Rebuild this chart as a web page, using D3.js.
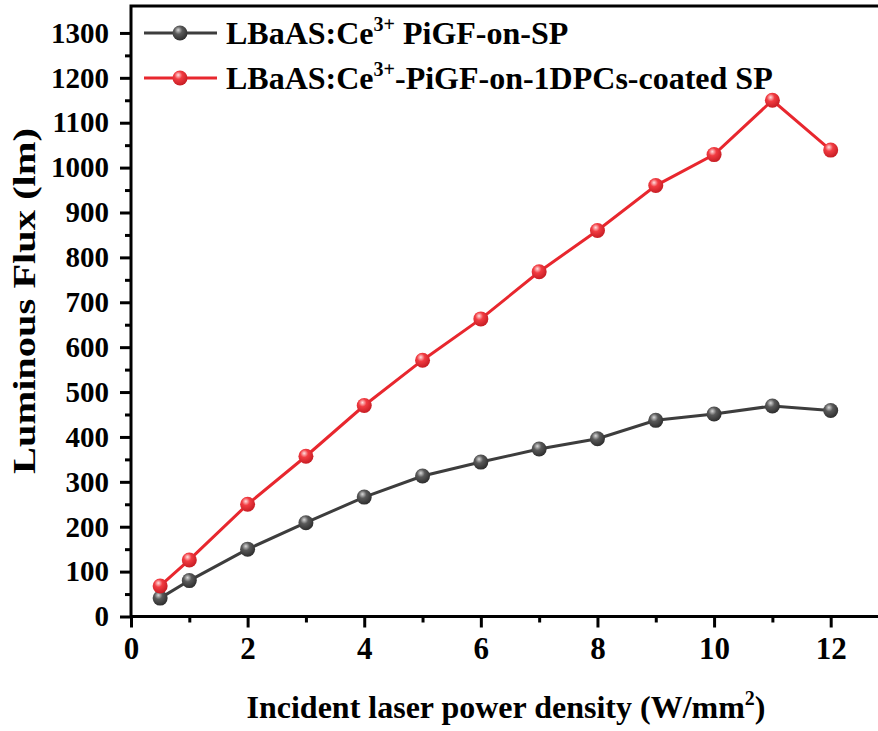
<!DOCTYPE html>
<html>
<head>
<meta charset="utf-8">
<script src="https://cdn.jsdelivr.net/npm/d3@7"></script>
<style>
    body { margin: 0; background: #fff; }
    svg { display: block; }
    svg text { font-family: "Liberation Serif", "Times New Roman", serif; font-weight: bold; }
</style>
</head>
<body>
<svg id="chart"></svg>
<script>
const width = 878, height = 731
const margin = {
    top: 6,
    bottom: 114.5,
    left: 131,
    right: -11,
}

// data
const powerDensity = [0.5, 1, 2, 3, 4, 5, 6, 7, 8, 9, 10, 11, 12]
const fluxSP = [41, 80, 150, 209, 266, 313, 344, 373, 396, 437, 451, 469, 459]
const fluxCoatedSP = [68, 126, 250, 357, 470, 571, 663, 768, 860, 960, 1029, 1150, 1039]
const xTicks = [0, 2, 4, 6, 8, 10, 12]
const xMinorTicks = [1, 3, 5, 7, 9, 11]
const yTicks = d3.range(0, 1301, 100)
const yMinorTicks = d3.range(50, 1301, 100)

const series = [
    {name: "LBaAS:Ce", sup: "3+", rest: " PiGF-on-SP", values: fluxSP, color: "#3d3d3d", grad: "g-black"},
    {name: "LBaAS:Ce", sup: "3+", rest: "-PiGF-on-1DPCs-coated SP", values: fluxCoatedSP, color: "#e8272e", grad: "g-red"},
]

const svg = d3.select("svg#chart")
    .attr("viewBox", [0, 0, width, height])
    .attr("width", width)
    .attr("height", height)

const xScale = d3.scaleLinear()
    .domain([0, 13])
    .range([margin.left, width - margin.right])

const yScale = d3.scaleLinear()
    .domain([0, 1360])
    .range([height - margin.bottom, margin.top])

// ball-style marker gradients
const defs = svg.append("defs")
const gradStops = {
    "g-black": ["#d8d8d8", "#5a5a5a", "#2e2e2e"],
    "g-red": ["#ffe0e0", "#f23c42", "#c71d24"],
}
for (const [id, cols] of Object.entries(gradStops)) {
    const g = defs.append("radialGradient").attr("id", id)
        .attr("cx", "40%").attr("cy", "35%").attr("r", "65%")
        .attr("fx", "38%").attr("fy", "30%")
    g.append("stop").attr("offset", "0%").attr("stop-color", cols[0])
    g.append("stop").attr("offset", "40%").attr("stop-color", cols[1])
    g.append("stop").attr("offset", "100%").attr("stop-color", cols[2])
}

// X axis
svg.append("g").classed("x-axis", true)
    .attr("transform", `translate(0, ${yScale(0)})`)
    .call(d3.axisBottom(xScale).tickValues(xTicks).tickSize(11).tickPadding(9).tickFormat(d3.format("d")))
    .call(g => g.select(".domain").remove())
    .call(g => g.selectAll("line").attr("stroke-width", 3))
    .call(g => g.selectAll("text")
        .attr("font-family", "Liberation Serif").attr("font-size", 31).attr("fill", "#000"))

svg.append("g").classed("x-minor", true)
    .attr("transform", `translate(0, ${yScale(0)})`)
    .call(d3.axisBottom(xScale).tickValues(xMinorTicks).tickSize(6).tickFormat(""))
    .call(g => g.select(".domain").remove())
    .call(g => g.selectAll("line").attr("stroke-width", 3))

// Y axis
svg.append("g").classed("y-axis", true)
    .attr("transform", `translate(${margin.left}, 0)`)
    .call(d3.axisLeft(yScale).tickValues(yTicks).tickSize(11).tickPadding(11).tickFormat(d3.format("d")))
    .call(g => g.select(".domain").remove())
    .call(g => g.selectAll("line").attr("stroke-width", 3))
    .call(g => g.selectAll("text")
        .attr("font-family", "Liberation Serif").attr("font-size", 29).attr("fill", "#000"))

svg.append("g").classed("y-minor", true)
    .attr("transform", `translate(${margin.left}, 0)`)
    .call(d3.axisLeft(yScale).tickValues(yMinorTicks).tickSize(6).tickFormat(""))
    .call(g => g.select(".domain").remove())
    .call(g => g.selectAll("line").attr("stroke-width", 3))

// frame
svg.append("rect")
    .attr("x", margin.left)
    .attr("y", margin.top)
    .attr("width", xScale(13) - margin.left)
    .attr("height", yScale(0) - margin.top)
    .attr("fill", "none")
    .attr("stroke", "#000")
    .attr("stroke-width", 3)

// lines + markers
const line = d3.line()
    .x((d, i) => xScale(powerDensity[i]))
    .y(d => yScale(d))

const plot = svg.append("g").classed("series", true)
series.forEach(s => {
    plot.append("path")
        .datum(s.values)
        .attr("d", line)
        .attr("fill", "none")
        .attr("stroke", s.color)
        .attr("stroke-width", 3)

    plot.append("g")
        .selectAll("circle")
        .data(s.values)
        .enter()
        .append("circle")
        .attr("cx", (d, i) => xScale(powerDensity[i]))
        .attr("cy", d => yScale(d))
        .attr("r", 7.5)
        .attr("fill", `url(#${s.grad})`)
})

// legend
const legend = svg.append("g").classed("legend", true)
series.forEach((s, i) => {
    const y = 33 + i * 45
    legend.append("line")
        .attr("x1", 144).attr("x2", 217)
        .attr("y1", y).attr("y2", y)
        .attr("stroke", s.color)
        .attr("stroke-width", 3)
    legend.append("circle")
        .attr("cx", 180).attr("cy", y)
        .attr("r", 7.5)
        .attr("fill", `url(#${s.grad})`)
    const t = legend.append("text")
        .attr("x", 226).attr("y", y + 11)
        .attr("font-size", 32)
    t.append("tspan").text(s.name)
    t.append("tspan").attr("dy", -13).attr("font-size", 20).text(s.sup)
    t.append("tspan").attr("dy", 13).text(s.rest)
})

// axis titles
const xTitle = svg.append("text")
    .attr("x", 506).attr("y", 718)
    .attr("text-anchor", "middle")
    .attr("font-size", 32)
xTitle.append("tspan").text("Incident laser power density (W/mm")
xTitle.append("tspan").attr("dy", -13).attr("font-size", 20).text("2")
xTitle.append("tspan").attr("dy", 13).text(")")

svg.append("text")
    .attr("transform", `translate(35, 301) rotate(-90)`)
    .attr("text-anchor", "middle")
    .attr("font-size", 31)
    .attr("textLength", 346)
    .attr("lengthAdjust", "spacingAndGlyphs")
    .text("Luminous Flux (lm)")
</script>
</body>
</html>
